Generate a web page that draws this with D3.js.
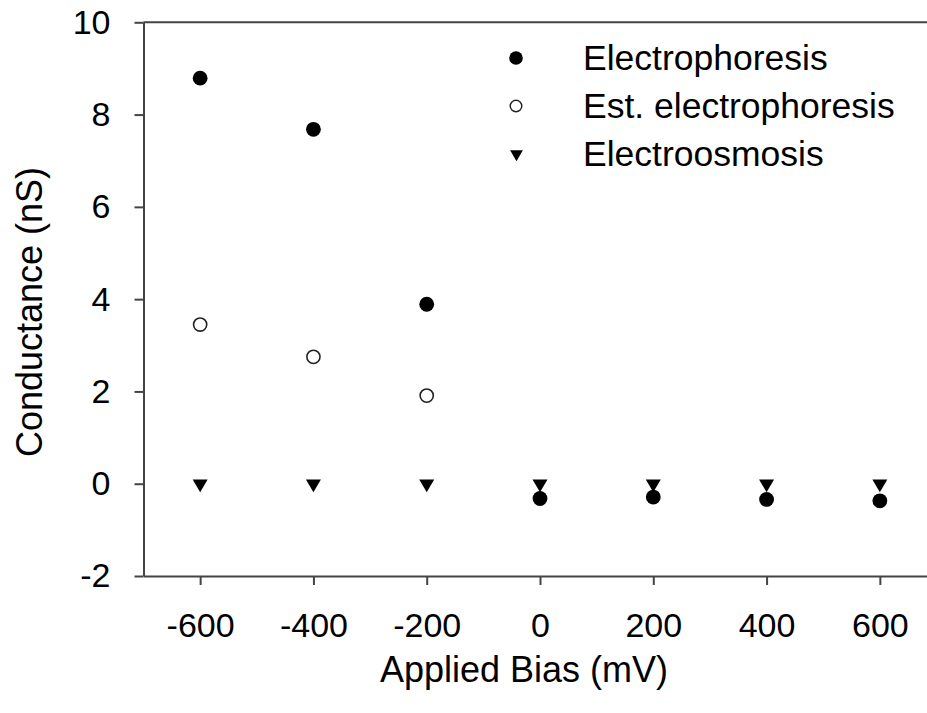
<!DOCTYPE html>
<html>
<head>
<meta charset="utf-8">
<script src="https://cdn.jsdelivr.net/npm/d3@7"></script>
<style>
  body { margin: 0; background: #fff; }
  svg text { font-family: "Liberation Sans", Arial, sans-serif; fill: #000; }
</style>
</head>
<body>
<div id="chart"></div>
<script>
// applied bias (mV)
const bias = [-600, -400, -200, 0, 200, 400, 600]
const electrophoresis = [8.79, 7.68, 3.89, -0.32, -0.29, -0.34, -0.37]
const estBias = [-600, -400, -200]
const estElectrophoresis = [3.45, 2.75, 1.91]
const electroosmosis = [0, 0, 0, 0, 0, 0, 0]

const xTicks = [-600, -400, -200, 0, 200, 400, 600]
const yTicks = [-2, 0, 2, 4, 6, 8, 10]

const legendItems = ["Electrophoresis", "Est. electrophoresis", "Electroosmosis"]

const width = 927, height = 713
const axisColor = "#444"

let svg = d3.select("#chart").append("svg")
    .attr("width", width)
    .attr("height", height)

let x = d3.scaleLinear().domain([-700, 700]).range([143.5, 936.5])
let y = d3.scaleLinear().domain([-2, 10]).range([576, 22.3])

// plain hyphen for negatives, like the original
let fmt = d => d.toString()

// top frame line
svg.append("line")
    .attr("x1", x(-700)).attr("x2", x(700))
    .attr("y1", y(10)).attr("y2", y(10))
    .attr("stroke", axisColor).attr("stroke-width", 2)

// x axis
let xAxis = svg.append("g")
    .attr("transform", `translate(0,${y(-2)})`)
    .call(d3.axisBottom(x).tickValues(xTicks).tickFormat(fmt).tickSize(9).tickSizeOuter(0).tickPadding(28))
xAxis.select(".domain").attr("stroke", axisColor).attr("stroke-width", 2)
xAxis.selectAll(".tick line").attr("stroke", axisColor).attr("stroke-width", 2)
xAxis.selectAll(".tick text").attr("font-size", 34).attr("fill", "#000")
    .attr("font-family", "Liberation Sans, Arial, sans-serif")

// y axis
let yAxis = svg.append("g")
    .attr("transform", `translate(${x(-700)},0)`)
    .call(d3.axisLeft(y).tickValues(yTicks).tickFormat(fmt).tickSize(9).tickSizeOuter(0).tickPadding(24))
yAxis.select(".domain").attr("stroke", axisColor).attr("stroke-width", 2)
yAxis.selectAll(".tick line").attr("stroke", axisColor).attr("stroke-width", 2)
yAxis.selectAll(".tick text").attr("font-size", 34).attr("fill", "#000")
    .attr("font-family", "Liberation Sans, Arial, sans-serif")

// axis titles
svg.append("text")
    .attr("x", 524).attr("y", 682)
    .attr("text-anchor", "middle")
    .attr("font-size", 36)
    .text("Applied Bias (mV)")

svg.append("text")
    .attr("transform", `translate(42,312) rotate(-90)`)
    .attr("text-anchor", "middle")
    .attr("font-size", 36)
    .text("Conductance (nS)")

// electroosmosis (down triangles)
let tri = d3.symbol().type(d3.symbolTriangle).size(97)
svg.append("g")
    .selectAll("path")
    .data(bias.map((b, i) => ({ b: b, v: electroosmosis[i] })))
    .enter().append("path")
    .attr("d", tri)
    .attr("transform", d => `translate(${x(d.b)},${y(d.v)}) rotate(180)`)
    .attr("fill", "#000")

// electrophoresis (filled circles)
svg.append("g")
    .selectAll("circle")
    .data(bias.map((b, i) => ({ b: b, v: electrophoresis[i] })))
    .enter().append("circle")
    .attr("cx", d => x(d.b))
    .attr("cy", d => y(d.v))
    .attr("r", 7.4)
    .attr("fill", "#000")

// estimated electrophoresis (open circles)
svg.append("g")
    .selectAll("circle")
    .data(estBias.map((b, i) => ({ b: b, v: estElectrophoresis[i] })))
    .enter().append("circle")
    .attr("cx", d => x(d.b))
    .attr("cy", d => y(d.v))
    .attr("r", 6.6)
    .attr("fill", "#fff")
    .attr("stroke", "#222")
    .attr("stroke-width", 1.6)

// legend
let legend = svg.append("g")
let rowY = [58, 106, 154]
legend.append("circle").attr("cx", 516).attr("cy", rowY[0]).attr("r", 6.8).attr("fill", "#000")
legend.append("circle").attr("cx", 516).attr("cy", rowY[1]).attr("r", 5.8)
    .attr("fill", "#fff").attr("stroke", "#222").attr("stroke-width", 1.4)
legend.append("path").attr("d", d3.symbol().type(d3.symbolTriangle).size(70))
    .attr("transform", `translate(516.5,${rowY[2]}) rotate(180)`).attr("fill", "#000")

legend.selectAll("text")
    .data(legendItems)
    .enter().append("text")
    .attr("x", 583)
    .attr("y", (d, i) => rowY[i] + 12)
    .attr("font-size", 35.5)
    .text(d => d)
</script>
</body>
</html>
